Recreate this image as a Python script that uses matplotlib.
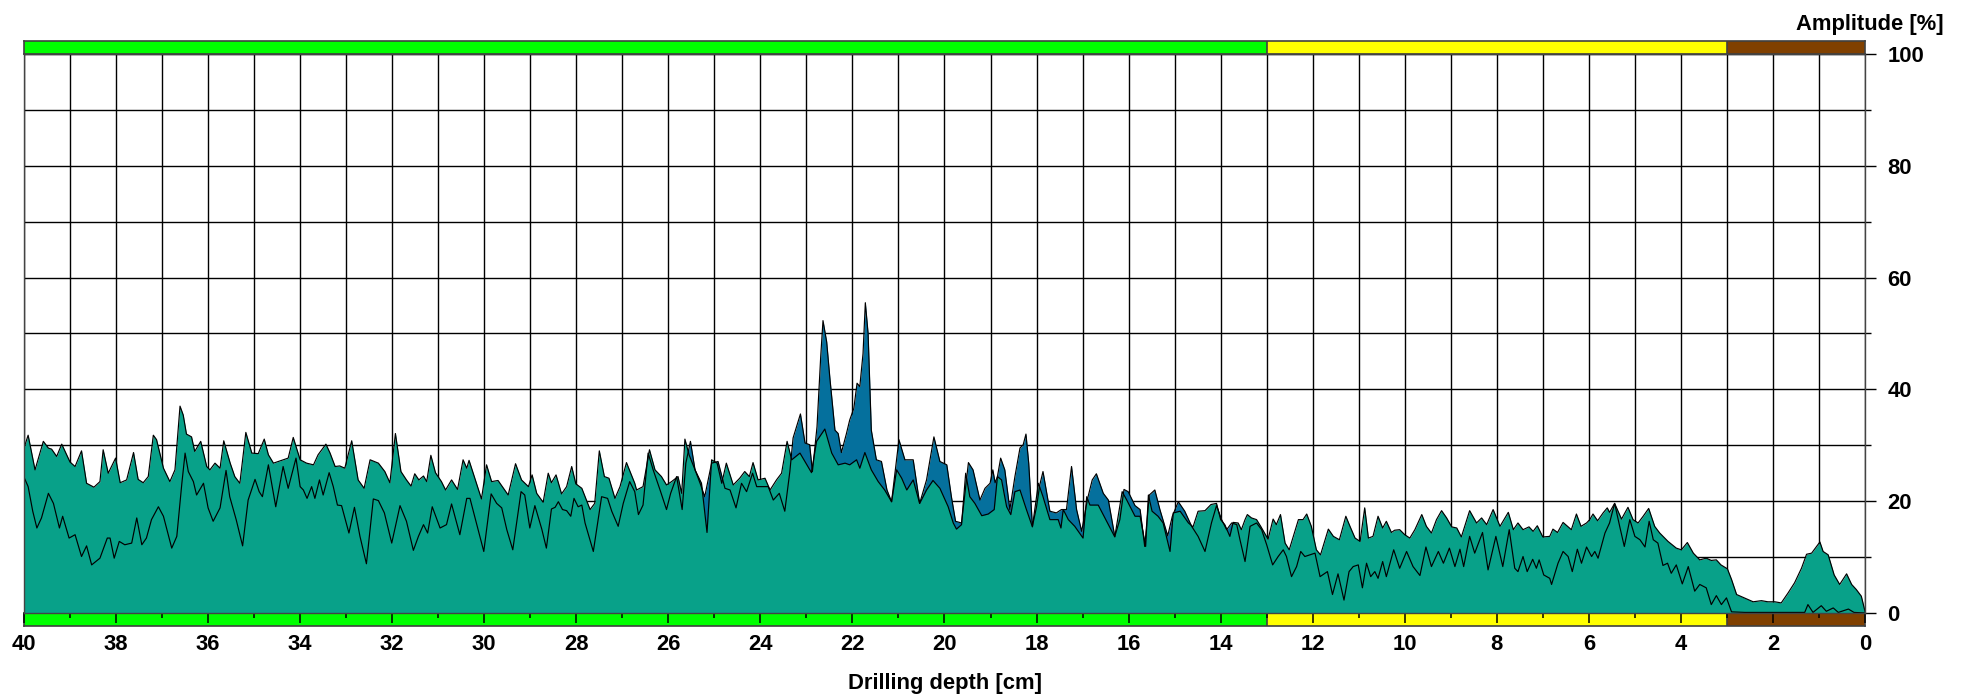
import numpy as np
import matplotlib.pyplot as plt
from matplotlib.ticker import MultipleLocator

plt.rcParams['font.family'] = ['Liberation Sans', 'DejaVu Sans']
plt.rcParams['font.weight'] = 'bold'

# teal series (upper envelope in most of the hole)
t_depth = [40.0, 39.91, 39.76, 39.58, 39.47, 39.40, 39.29, 39.18, 39.0, 38.89, 38.75, 38.64, 38.48, 38.35,
           38.28, 38.17, 38.01, 37.91, 37.77, 37.62, 37.52, 37.41, 37.30, 37.19, 37.12, 36.97, 36.83, 36.72,
           36.61, 36.54, 36.47, 36.36, 36.29, 36.16, 36.03, 35.96, 35.85, 35.74, 35.66, 35.52, 35.42, 35.31,
           35.18, 35.05, 34.91, 34.78, 34.69, 34.58, 34.37, 34.26, 34.15, 34.0, 33.86, 33.71, 33.61, 33.44,
           33.35, 33.24, 33.14, 33.03, 32.88, 32.74, 32.61, 32.48, 32.30, 32.16, 32.05, 31.93, 31.81, 31.69,
           31.59, 31.51, 31.42, 31.32, 31.25, 31.16, 31.06, 30.93, 30.84, 30.71, 30.58, 30.46, 30.38, 30.33,
           30.24, 30.06, 29.95, 29.84, 29.70, 29.48, 29.32, 29.19, 29.04, 28.96, 28.86, 28.72, 28.61, 28.54,
           28.44, 28.32, 28.21, 28.10, 28.01, 27.88, 27.70, 27.60, 27.50, 27.39, 27.29, 27.16, 27.05, 26.91,
           26.73, 26.69, 26.55, 26.41, 26.29, 26.15, 26.04, 25.93, 25.79, 25.71, 25.64, 25.55, 25.42, 25.28,
           25.16, 25.06, 24.94, 24.84, 24.74, 24.59, 24.45, 24.34, 24.24, 24.16, 24.05, 23.90, 23.79, 23.65,
           23.54, 23.42, 23.32, 23.14, 22.97, 22.89, 22.78, 22.60, 22.45, 22.31, 22.16, 22.06, 21.91, 21.84,
           21.73, 21.59, 21.44, 21.30, 21.15, 21.04, 20.93, 20.82, 20.68, 20.54, 20.39, 20.25, 20.10, 19.92,
           19.81, 19.74, 19.63, 19.54, 19.45, 19.34, 19.19, 19.05, 18.92, 18.85, 18.76, 18.65, 18.56, 18.47,
           18.36, 18.22, 18.09, 17.96, 17.86, 17.71, 17.53, 17.47, 17.42, 17.31, 17.17, 16.99, 16.91, 16.84,
           16.66, 16.44, 16.30, 16.14, 16.04, 15.86, 15.75, 15.63, 15.57, 15.49, 15.36, 15.25, 15.10, 15.03,
           14.88, 14.70, 14.60, 14.49, 14.34, 14.21, 14.09, 14.0, 13.91, 13.80, 13.73, 13.62, 13.55, 13.47,
           13.42, 13.33, 13.22, 13.13, 12.97, 12.86, 12.79, 12.70, 12.60, 12.51, 12.42, 12.31, 12.21, 12.13,
           12.03, 11.92, 11.83, 11.66, 11.55, 11.42, 11.28, 11.19, 11.08, 10.97, 10.87, 10.79, 10.69, 10.58,
           10.48, 10.40, 10.29, 10.22, 10.11, 10.0, 9.89, 9.78, 9.63, 9.53, 9.42, 9.31, 9.20, 9.09, 8.98,
           8.87, 8.77, 8.59, 8.44, 8.33, 8.22, 8.08, 7.93, 7.75, 7.64, 7.54, 7.43, 7.30, 7.21, 7.12, 7.0,
           6.85, 6.78, 6.68, 6.56, 6.45, 6.38, 6.27, 6.17, 6.05, 5.98, 5.91, 5.81, 5.69, 5.60, 5.55, 5.44,
           5.29, 5.15, 5.04, 4.93, 4.82, 4.70, 4.57, 4.46, 4.28, 4.10, 3.99, 3.86, 3.73, 3.59, 3.45, 3.34,
           3.23, 3.13, 2.99, 2.90, 2.79, 2.68, 2.43, 2.25, 2.11, 1.96, 1.82, 1.67, 1.53, 1.38, 1.27, 1.16,
           1.08, 0.98, 0.91, 0.80, 0.67, 0.55, 0.40, 0.29, 0.19, 0.08, 0.0]
t_amp = [29.5, 31.8, 25.6, 30.7, 29.5, 29.3, 28.0, 30.2, 27.0, 26.2, 29.0, 23.2, 22.5, 23.5,
         29.2, 25.0, 27.7, 23.3, 23.8, 28.7, 23.9, 23.3, 24.4, 31.8, 31.0, 25.9, 23.5, 25.6,
         37.0, 35.4, 32.0, 31.5, 28.9, 30.7, 26.2, 25.6, 26.8, 25.9, 30.8, 26.8, 24.4, 23.2,
         32.3, 28.6, 28.5, 31.1, 28.3, 26.8, 27.4, 27.7, 31.4, 27.4, 26.8, 26.5, 28.3, 30.2,
         28.6, 26.2, 26.3, 25.9, 30.8, 23.8, 22.3, 27.4, 26.8, 25.3, 23.3, 32.1, 25.3, 23.8,
         22.7, 24.9, 23.8, 24.5, 23.5, 28.2, 25.1, 23.5, 22.0, 23.8, 22.1, 27.4, 25.9, 27.3,
         25.0, 20.4, 26.5, 23.5, 23.7, 21.1, 26.7, 23.8, 22.6, 24.7, 21.4, 19.8, 25.0, 23.3,
         24.7, 21.3, 22.6, 26.2, 23.1, 22.3, 18.5, 19.6, 29.0, 24.4, 24.1, 20.5, 22.6, 26.9,
         23.2, 22.0, 22.6, 29.2, 25.6, 24.4, 22.9, 23.5, 24.4, 21.4, 31.1, 28.3, 25.6, 23.2,
         14.4, 27.4, 26.8, 23.2, 26.8, 22.9, 24.1, 25.3, 24.4, 26.9, 23.8, 24.1, 22.0, 23.8,
         25.0, 30.7, 27.4, 28.6, 26.2, 25.1, 30.7, 32.9, 28.6, 26.5, 26.8, 26.5, 27.4, 25.9,
         28.7, 25.6, 23.5, 22.0, 19.9, 25.6, 24.1, 22.0, 23.8, 19.6, 22.0, 23.7, 22.3, 19.0,
         16.1, 15.0, 15.8, 25.0, 20.8, 19.6, 17.4, 17.7, 18.5, 24.4, 23.8, 19.0, 17.6, 21.7,
         22.0, 18.5, 15.4, 23.2, 20.8, 16.7, 16.7, 15.2, 18.5, 16.7, 15.5, 13.4, 20.8, 19.3,
         19.3, 15.8, 13.6, 21.7, 20.2, 17.3, 17.3, 11.9, 21.1, 18.2, 17.3, 16.1, 11.0, 17.9,
         18.2, 16.1, 15.4, 18.2, 18.3, 19.4, 19.6, 16.7, 15.8, 13.7, 16.2, 16.1, 14.9, 16.7,
         17.6, 17.0, 16.7, 15.5, 13.2, 16.8, 15.8, 17.6, 12.5, 11.3, 13.7, 16.7, 16.7, 17.7,
         15.5, 11.3, 10.4, 15.0, 13.7, 13.1, 17.3, 15.5, 13.4, 12.8, 18.8, 13.4, 13.7, 17.3,
         15.2, 16.4, 14.4, 14.8, 14.9, 14.0, 13.4, 14.9, 17.6, 15.5, 14.3, 16.7, 18.3, 17.0, 15.4,
         15.2, 13.6, 18.3, 16.1, 17.0, 15.8, 18.5, 15.5, 18.0, 14.9, 16.1, 14.9, 15.4, 14.6, 15.6, 13.6,
         13.7, 15.0, 14.4, 16.2, 15.4, 14.9, 17.7, 15.5, 16.1, 16.7, 17.7, 16.5, 17.9, 18.8, 18.0, 19.6,
         16.8, 18.9, 16.7, 16.1, 17.3, 18.7, 15.5, 14.3, 12.8, 11.6, 11.3, 12.6, 10.7, 9.5, 9.8, 9.4,
         9.5, 8.6, 7.9, 6.0, 3.3, 2.9, 2.0, 2.2, 2.0, 2.0, 1.8, 3.6, 5.4, 8.0, 10.5, 10.7,
         11.6, 12.7, 11.0, 10.4, 6.8, 5.1, 7.0, 5.1, 4.2, 3.0, 0.3]

# blue series (rises above the teal between about 23 and 15 cm)
b_depth = [40.0, 39.91, 39.81, 39.72, 39.62, 39.47, 39.36, 39.23, 39.16, 39.02, 38.89, 38.75, 38.64, 38.53,
           38.35, 38.19, 38.13, 38.04, 37.93, 37.81, 37.66, 37.55, 37.44, 37.34, 37.23, 37.08, 36.97, 36.79,
           36.68, 36.57, 36.50, 36.43, 36.32, 36.25, 36.10, 36.0, 35.89, 35.74, 35.61, 35.53, 35.39, 35.25,
           35.13, 34.98, 34.89, 34.82, 34.69, 34.53, 34.37, 34.26, 34.09, 34.0, 33.93, 33.85, 33.75, 33.68,
           33.58, 33.50, 33.37, 33.28, 33.19, 33.10, 32.94, 32.82, 32.70, 32.56, 32.41, 32.30, 32.17, 32.01,
           31.83, 31.69, 31.54, 31.43, 31.32, 31.23, 31.13, 30.96, 30.82, 30.71, 30.53, 30.38, 30.31, 30.17,
           30.01, 29.85, 29.73, 29.62, 29.51, 29.38, 29.20, 29.12, 29.01, 28.90, 28.75, 28.65, 28.54, 28.46,
           28.39, 28.30, 28.21, 28.12, 28.05, 27.96, 27.88, 27.81, 27.63, 27.45, 27.32, 27.23, 27.09, 26.98,
           26.84, 26.73, 26.65, 26.55, 26.44, 26.33, 26.18, 26.04, 25.95, 25.82, 25.70, 25.62, 25.52, 25.42,
           25.31, 25.21, 25.06, 24.92, 24.77, 24.66, 24.53, 24.41, 24.30, 24.17, 24.08, 23.97, 23.83, 23.72,
           23.59, 23.47, 23.36, 23.29, 23.13, 23.03, 22.93, 22.87, 22.77, 22.69, 22.64, 22.56, 22.49, 22.38,
           22.31, 22.24, 22.13, 22.06, 21.97, 21.90, 21.84, 21.77, 21.72, 21.66, 21.59, 21.48, 21.37, 21.25,
           21.15, 20.99, 20.86, 20.68, 20.54, 20.39, 20.23, 20.10, 19.95, 19.85, 19.76, 19.63, 19.48, 19.38,
           19.23, 19.12, 19.01, 18.95, 18.90, 18.85, 18.78, 18.69, 18.58, 18.47, 18.36, 18.29, 18.23, 18.17,
           18.09, 18.0, 17.93, 17.86, 17.71, 17.57, 17.46, 17.35, 17.24, 17.13, 17.02, 16.89, 16.79, 16.70,
           16.55, 16.44, 16.30, 16.19, 16.10, 16.01, 15.86, 15.75, 15.65, 15.55, 15.43, 15.32, 15.15, 15.05,
           14.92, 14.78, 14.63, 14.49, 14.34, 14.20, 14.09, 13.98, 13.87, 13.76, 13.65, 13.58, 13.47, 13.36,
           13.22, 13.11, 13.0, 12.87, 12.75, 12.64, 12.57, 12.46, 12.35, 12.26, 12.17, 12.06, 11.95, 11.84,
           11.68, 11.57, 11.45, 11.32, 11.21, 11.12, 11.01, 10.92, 10.83, 10.74, 10.65, 10.58, 10.48, 10.40,
           10.24, 10.11, 9.96, 9.82, 9.67, 9.54, 9.42, 9.27, 9.16, 9.03, 8.91, 8.80, 8.72, 8.59, 8.48,
           8.31, 8.19, 8.02, 7.87, 7.73, 7.61, 7.54, 7.43, 7.34, 7.22, 7.14, 7.08, 6.98, 6.85, 6.81,
           6.67, 6.56, 6.45, 6.36, 6.25, 6.16, 6.05, 5.94, 5.87, 5.80, 5.65, 5.55, 5.44, 5.33, 5.23,
           5.11, 5.0, 4.89, 4.78, 4.69, 4.60, 4.50, 4.39, 4.29, 4.21, 4.10, 3.97, 3.84, 3.70, 3.59,
           3.45, 3.34, 3.23, 3.12, 3.01, 2.90, 2.61, 1.31, 1.24, 1.13, 0.95, 0.84, 0.69, 0.58, 0.36,
           0.24, 0.0]
b_amp = [24.3, 22.6, 18.2, 15.2, 17.0, 21.4, 19.6, 15.2, 17.3, 13.4, 14.0, 10.1, 12.0, 8.6,
         9.8, 13.4, 13.4, 9.8, 12.8, 12.2, 12.5, 17.0, 12.2, 13.4, 16.7, 19.0, 17.3, 11.6,
         13.7, 23.2, 28.6, 25.3, 23.5, 21.1, 23.2, 18.8, 16.4, 18.8, 25.5, 20.8, 16.7, 12.0,
         20.2, 23.9, 21.7, 20.8, 26.5, 19.0, 26.2, 22.3, 27.7, 22.6, 22.0, 20.5, 22.6, 20.5,
         23.8, 21.1, 25.1, 22.6, 19.3, 19.2, 14.3, 18.9, 13.7, 8.8, 20.4, 20.1, 17.9, 12.5,
         19.2, 16.4, 11.2, 13.7, 15.8, 14.3, 19.0, 15.2, 15.8, 19.5, 14.0, 20.5, 20.5, 16.1,
         11.0, 21.3, 19.6, 18.8, 14.9, 11.3, 21.7, 21.1, 15.2, 19.2, 15.0, 11.6, 18.6, 18.9,
         19.9, 18.5, 18.3, 17.3, 20.5, 19.0, 19.3, 16.1, 11.0, 20.8, 20.5, 18.2, 15.5, 19.6,
         23.5, 21.7, 17.6, 19.3, 28.6, 25.6, 22.0, 18.5, 21.4, 24.4, 18.5, 26.8, 30.7, 25.6,
         23.2, 20.8, 26.8, 27.1, 22.3, 22.0, 18.8, 23.2, 21.7, 25.0, 22.6, 22.6, 22.6, 20.2,
         21.4, 18.2, 25.3, 31.3, 35.6, 30.4, 30.1, 25.3, 33.3, 45.8, 52.3, 48.5, 42.0, 32.7,
         32.1, 28.7, 32.1, 34.5, 36.6, 41.1, 40.5, 46.4, 55.5, 50.0, 32.7, 27.4, 27.1, 22.0,
         19.9, 31.0, 27.4, 27.4, 19.6, 23.8, 31.5, 27.1, 26.5, 20.8, 16.4, 16.1, 26.9, 25.6,
         20.2, 22.3, 23.2, 25.6, 23.3, 24.4, 27.7, 25.6, 18.5, 24.4, 29.5, 30.1, 32.0, 26.8,
         15.5, 19.0, 22.9, 25.3, 18.2, 17.9, 18.5, 18.5, 26.2, 18.5, 14.6, 20.5, 23.8, 24.9,
         21.4, 20.2, 13.7, 16.7, 22.1, 21.7, 19.2, 18.5, 11.9, 21.1, 22.0, 18.5, 13.8, 17.3,
         19.9, 18.2, 15.5, 13.7, 11.0, 16.1, 19.2, 16.7, 14.9, 16.1, 15.8, 13.1, 9.2, 15.5,
         16.1, 14.9, 12.2, 8.6, 10.1, 11.3, 10.1, 6.5, 8.3, 11.0, 10.1, 10.4, 10.7, 6.5,
         7.4, 3.3, 7.0, 2.3, 7.4, 8.3, 8.6, 4.5, 8.9, 6.5, 7.4, 6.2, 9.2, 6.5,
         11.3, 8.0, 11.0, 8.3, 6.7, 11.8, 8.3, 11.0, 8.9, 11.6, 8.3, 11.4, 8.3, 13.7, 10.7,
         14.4, 7.7, 13.7, 8.3, 14.9, 8.0, 7.4, 10.1, 7.4, 9.6, 8.0, 9.5, 6.8, 6.2, 5.1,
         8.9, 11.0, 10.1, 7.4, 11.4, 8.9, 11.8, 10.1, 11.0, 9.8, 14.3, 16.1, 19.6, 15.5, 11.9,
         16.7, 13.7, 13.1, 11.8, 16.4, 13.1, 12.5, 8.5, 8.9, 7.1, 8.6, 5.2, 8.3, 3.9, 5.1,
         4.5, 1.5, 3.1, 1.5, 2.7, 0.2, 0.1, 0.1, 1.5, 0.1, 1.3, 0.3, 0.9, 0.1, 0.7,
         0.1, 0.0]

# material zones along the hole
zone_edges = [40, 13, 3, 0]
zone_colors = ['#00ff00', '#ffff00', '#804000']

teal = '#08a189'
blue = '#05709d'

fig = plt.figure(figsize=(19.65, 6.96), dpi=100)
left, width = 0.01221, 0.93690

for y0 in (0.9224, 0.1006):
    bar = fig.add_axes([left, y0, width, 0.0187])
    for i in range(len(zone_colors)):
        bar.axvspan(zone_edges[i], zone_edges[i + 1], color=zone_colors[i], lw=0)
    for e in zone_edges[1:-1]:
        bar.axvline(e, color='#404040', lw=1.2)
    bar.set_xlim(40, 0)
    bar.set_ylim(0, 1)
    bar.set_xticks([])
    bar.set_yticks([])
    for s in bar.spines.values():
        s.set_color('#404040')
        s.set_linewidth(1.2)

ax = fig.add_axes([left, 0.1193, width, 0.8032])
ax.fill_between(b_depth, b_amp, 0, color=blue, lw=0)
ax.fill_between(t_depth, t_amp, 0, color=teal, lw=0)
ax.plot(t_depth, t_amp, color='black', lw=0.85, solid_joinstyle='round')
ax.plot(b_depth, b_amp, color='black', lw=0.85, solid_joinstyle='round')

ax.set_xlim(40, 0)
ax.set_ylim(0, 100)
ax.xaxis.set_major_locator(MultipleLocator(2))
ax.xaxis.set_minor_locator(MultipleLocator(1))
ax.yaxis.set_major_locator(MultipleLocator(20))
ax.yaxis.set_minor_locator(MultipleLocator(10))
ax.grid(which='both', color='black', lw=1)
ax.set_axisbelow(True)
ax.yaxis.tick_right()
ax.tick_params(axis='x', which='major', length=7.2, width=1.1, pad=8, labelsize=15.8)
ax.tick_params(axis='x', which='minor', length=3.6, width=1.1)
ax.tick_params(axis='y', which='major', length=8, width=1, pad=8, labelsize=15.8)
ax.tick_params(axis='y', which='minor', length=4.3, width=1)
for s in ax.spines.values():
    s.set_color('#444444')
    s.set_linewidth(1)

fig.text(0.9893, 0.9573, 'Amplitude [%]', ha='right', va='baseline', fontsize=15.8, fontweight='bold')
fig.text(0.4807, 0.0095, 'Drilling depth [cm]', ha='center', va='baseline', fontsize=15.8, fontweight='bold')

fig.savefig('out.png', dpi=100)
